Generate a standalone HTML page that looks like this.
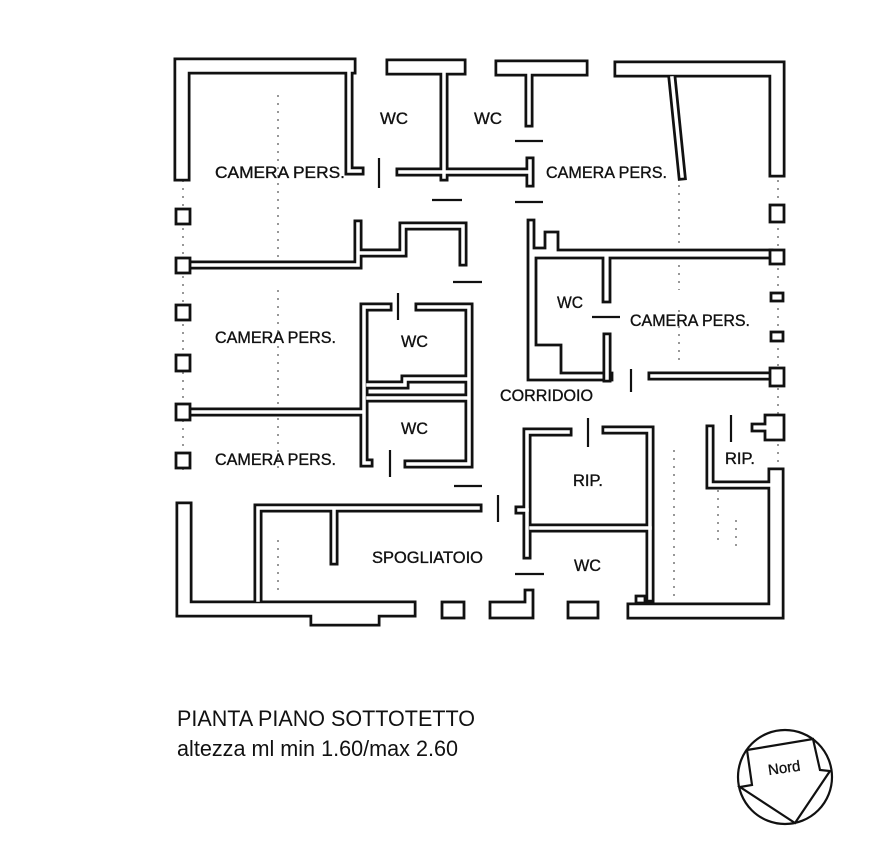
<!DOCTYPE html>
<html><head><meta charset="utf-8"><style>
body{margin:0;background:#fff}
svg{display:block}
text{font-family:"Liberation Sans",sans-serif;fill:#111}
.lb{font-size:16.5px;stroke:#111;stroke-width:0.35}
.bk{fill:none;stroke:#111;stroke-width:9;stroke-linecap:square;stroke-linejoin:miter}
.wh{fill:none;stroke:#fff;stroke-width:3.5;stroke-linecap:square;stroke-linejoin:miter}
.bkO{fill:none;stroke:#111;stroke-width:17;stroke-linecap:square;stroke-linejoin:miter}
.whO{fill:none;stroke:#fff;stroke-width:11.5;stroke-linecap:square;stroke-linejoin:miter}
.p{fill:#fff;stroke:#111;stroke-width:2.8}
.ln{stroke:#111;stroke-width:2.2}
.dt{stroke:#777;stroke-width:1.5;stroke-dasharray:2 6}
</style></head><body>
<svg width="872" height="846" viewBox="0 0 872 846">
<g class="dt">
<line x1="278" y1="95" x2="278" y2="270"/><line x1="278" y1="290" x2="278" y2="470"/><line x1="278" y1="540" x2="278" y2="590"/>
<line x1="679" y1="185" x2="679" y2="290"/><line x1="679" y1="310" x2="679" y2="360"/>
<line x1="183" y1="180" x2="183" y2="470"/><line x1="778" y1="180" x2="778" y2="470"/>
<line x1="674" y1="450" x2="674" y2="600"/><line x1="718" y1="490" x2="718" y2="540"/><line x1="736" y1="520" x2="736" y2="550"/>
</g>
<g id="walls">
<polyline class="bkO" points="182,173 182,66 348,66"/>
<polyline class="bkO" points="394,67 458,67"/>
<polyline class="bkO" points="503,68 580,68"/>
<polyline class="bkO" points="622,69 777,69 777,169"/>
<polyline class="bkO" points="184,510 184,609 408,609"/>
<polyline class="bkO" points="318,618 372,618"/>
<polyline class="bkO" points="635,611 776,611 776,476"/>
<g class="bk">
<polyline points="349,70 349,171 360,171"/>
<line x1="444" y1="70" x2="444" y2="177"/>
<line x1="529" y1="72" x2="529" y2="123"/>
<line x1="672" y1="78" x2="682" y2="176"/>
<polyline points="400,172 527,172"/>
<line x1="530" y1="161" x2="530" y2="183"/>
<polyline points="190,265 358,265 358,224"/>
<polyline points="361,253 403,253 403,226 463,226 463,262"/>
<polyline points="388,307 364,307 364,463 369,463"/>
<polyline points="419,307 469,307 469,464 408,464"/>
<polyline points="368,385 405,385 405,379 466,379"/>
<line x1="368" y1="398" x2="466" y2="398"/>
<line x1="190" y1="412" x2="362" y2="412"/>
<polyline points="478,508 258,508 258,600"/>
<line x1="334" y1="510" x2="334" y2="561"/>
<polyline points="527,555 527,432 568,432"/>
<line x1="519" y1="510" x2="527" y2="510"/>
<polyline points="606,430 650,430 650,598"/>
<line x1="531" y1="528" x2="650" y2="528"/>
<polyline points="710,429 710,485 772,485"/>
<line x1="652" y1="376" x2="772" y2="376"/>
</g>
<polyline class="whO" points="182,173 182,66 348,66"/>
<polyline class="whO" points="394,67 458,67"/>
<polyline class="whO" points="503,68 580,68"/>
<polyline class="whO" points="622,69 777,69 777,169"/>
<polyline class="whO" points="184,510 184,609 408,609"/>
<polyline class="whO" points="318,618 372,618"/>
<polyline class="whO" points="635,611 776,611 776,476"/>
<g class="wh">
<polyline points="349,70 349,171 360,171"/>
<line x1="444" y1="70" x2="444" y2="177"/>
<line x1="529" y1="72" x2="529" y2="123"/>
<line x1="672" y1="78" x2="682" y2="176"/>
<polyline points="400,172 527,172"/>
<line x1="530" y1="161" x2="530" y2="183"/>
<polyline points="190,265 358,265 358,224"/>
<polyline points="361,253 403,253 403,226 463,226 463,262"/>
<polyline points="388,307 364,307 364,463 369,463"/>
<polyline points="419,307 469,307 469,464 408,464"/>
<polyline points="368,385 405,385 405,379 466,379"/>
<line x1="368" y1="398" x2="466" y2="398"/>
<line x1="190" y1="412" x2="362" y2="412"/>
<polyline points="478,508 258,508 258,600"/>
<line x1="334" y1="510" x2="334" y2="561"/>
<polyline points="527,555 527,432 568,432"/>
<line x1="519" y1="510" x2="527" y2="510"/>
<polyline points="606,430 650,430 650,598"/>
<line x1="531" y1="528" x2="650" y2="528"/>
<polyline points="710,429 710,485 772,485"/>
<line x1="652" y1="376" x2="772" y2="376"/>
</g>
<polygon class="p" points="528,220 534,220 534,248 545,248 545,232 558,232 558,250 772,250 772,258 610,258 610,302 603,302 603,258 536,258 536,345 561,345 561,373 612,373 612,380 528,380"/>
<line x1="607" y1="337" x2="607" y2="378" class="bk"/><line x1="607" y1="337" x2="607" y2="378" class="wh"/>
<rect class="p" x="176" y="209" width="14" height="15"/>
<rect class="p" x="176" y="258" width="14" height="15"/>
<rect class="p" x="176" y="305" width="14" height="15"/>
<rect class="p" x="176" y="355" width="14" height="16"/>
<rect class="p" x="176" y="404" width="14" height="16"/>
<rect class="p" x="176" y="453" width="14" height="15"/>
<rect class="p" x="770" y="205" width="14" height="17"/>
<rect class="p" x="770" y="250" width="14" height="14"/>
<rect class="p" x="771" y="293" width="12" height="8"/>
<rect class="p" x="771" y="332" width="12" height="9"/>
<rect class="p" x="770" y="368" width="14" height="18"/>
<polygon class="p" points="765,415 784,415 784,440 765,440 765,431 752,431 752,424 765,424"/>
<rect class="p" x="442" y="602" width="22" height="16"/>
<polygon class="p" points="490,602 525,602 525,590 533,590 533,618 490,618"/>
<rect class="p" x="568" y="602" width="30" height="16"/>
<polygon class="p" points="636,596 645,596 645,603 636,603"/>
</g>
<g class="ln">
<line x1="379" y1="158" x2="379" y2="188"/>
<line x1="432" y1="200" x2="462" y2="200"/>
<line x1="515" y1="141" x2="543" y2="141"/>
<line x1="515" y1="202" x2="543" y2="202"/>
<line x1="453" y1="282" x2="482" y2="282"/>
<line x1="398" y1="293" x2="398" y2="320"/>
<line x1="390" y1="450" x2="390" y2="477"/>
<line x1="592" y1="317" x2="620" y2="317"/>
<line x1="631" y1="369" x2="631" y2="392"/>
<line x1="454" y1="486" x2="482" y2="486"/>
<line x1="498" y1="495" x2="498" y2="522"/>
<line x1="588" y1="418" x2="588" y2="447"/>
<line x1="731" y1="415" x2="731" y2="442"/>
<line x1="515" y1="574" x2="544" y2="574"/>
</g>
<g class="lb" lengthAdjust="spacingAndGlyphs">
<text x="215" y="178" textLength="130" lengthAdjust="spacingAndGlyphs">CAMERA PERS.</text>
<text x="380" y="124" textLength="28" lengthAdjust="spacingAndGlyphs">WC</text>
<text x="474" y="124" textLength="28" lengthAdjust="spacingAndGlyphs">WC</text>
<text x="546" y="178" textLength="121" lengthAdjust="spacingAndGlyphs">CAMERA PERS.</text>
<text x="215" y="343" textLength="121" lengthAdjust="spacingAndGlyphs">CAMERA PERS.</text>
<text x="401" y="347" textLength="27" lengthAdjust="spacingAndGlyphs">WC</text>
<text x="557" y="308" textLength="26" lengthAdjust="spacingAndGlyphs">WC</text>
<text x="630" y="326" textLength="120" lengthAdjust="spacingAndGlyphs">CAMERA PERS.</text>
<text x="500" y="401" textLength="93" lengthAdjust="spacingAndGlyphs">CORRIDOIO</text>
<text x="401" y="434" textLength="27" lengthAdjust="spacingAndGlyphs">WC</text>
<text x="215" y="465" textLength="121" lengthAdjust="spacingAndGlyphs">CAMERA PERS.</text>
<text x="573" y="486" textLength="30" lengthAdjust="spacingAndGlyphs">RIP.</text>
<text x="725" y="464" textLength="30" lengthAdjust="spacingAndGlyphs">RIP.</text>
<text x="372" y="563" textLength="111" lengthAdjust="spacingAndGlyphs">SPOGLIATOIO</text>
<text x="574" y="571" textLength="27" lengthAdjust="spacingAndGlyphs">WC</text>
</g>
<text x="177" y="726" font-size="22" textLength="298" lengthAdjust="spacingAndGlyphs">PIANTA PIANO SOTTOTETTO</text>
<text x="177" y="756" font-size="22" textLength="281" lengthAdjust="spacingAndGlyphs">altezza ml min 1.60/max 2.60</text>
<circle cx="785" cy="777" r="47" fill="none" stroke="#111" stroke-width="2.2"/>
<polygon points="747,750 813,739 820,770 830,771 795,823 740,787 752,785" fill="none" stroke="#111" stroke-width="2.2"/>
<text x="784" y="773" font-size="15" text-anchor="middle" stroke="#111" stroke-width="0.3" transform="rotate(-8 783 767)">Nord</text>
</svg>
</body></html>
